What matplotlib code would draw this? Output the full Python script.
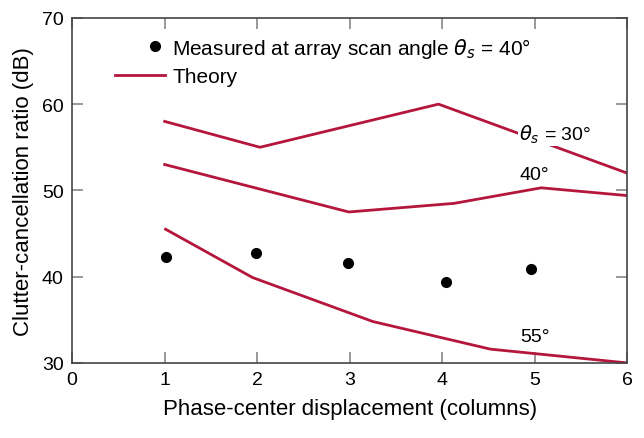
import matplotlib.pyplot as plt
from matplotlib.legend_handler import HandlerLine2D
import numpy as np

plt.rcParams['font.family'] = ['Liberation Sans', 'DejaVu Sans']
plt.rcParams['mathtext.fontset'] = 'dejavusans'

# measured points (array scan angle 40 deg)
meas_x = np.array([1.01, 1.99, 2.98, 4.04, 4.96])
meas_y = np.array([42.25, 42.7, 41.6, 39.4, 40.9])

# theory curves
th30_x = np.array([1.0, 2.03, 3.96, 6.0])
th30_y = np.array([58.0, 55.0, 60.0, 52.0])
th40_x = np.array([1.0, 2.99, 4.13, 5.07, 6.0])
th40_y = np.array([53.0, 47.5, 48.5, 50.3, 49.4])
th55_x = np.array([1.01, 1.95, 3.25, 4.52, 6.0])
th55_y = np.array([45.5, 39.9, 34.8, 31.6, 30.0])

red = '#b5163c'


# legend marker sits near the right end of the handle box
class RightMarker(HandlerLine2D):
    def get_xdata(self, legend, xdescent, ydescent, width, height, fontsize):
        x = [-xdescent + width * 0.8]
        return x, x


fig = plt.figure(figsize=(6.44, 4.39), dpi=100)
ax = fig.add_axes([0.112, 0.171, 0.862, 0.786])

meas, = ax.plot(meas_x, meas_y, 'o', color='black', markersize=7,
                label=r'Measured at array scan angle $\theta_s$ = 40°')
ax.plot(th30_x, th30_y, '-', color=red, lw=2, label='Theory')
ax.plot(th40_x, th40_y, '-', color=red, lw=2)
ax.plot(th55_x, th55_y, '-', color=red, lw=2)

# curve labels (white box breaks the 30 deg line like the original)
ax.text(5.22, 56.6, r'$\theta_s$ = 30°', fontsize=14, ha='center', va='center',
        bbox=dict(facecolor='white', edgecolor='none', pad=1))
ax.text(5.0, 51.9, '40°', fontsize=14, ha='center', va='center')
ax.text(5.0, 33.1, '55°', fontsize=14, ha='center', va='center')

ax.set_xlim(0, 6)
ax.set_ylim(30, 70)
ax.set_xticks(np.arange(0, 7, 1))
ax.set_yticks(np.arange(30, 71, 10))
ax.tick_params(direction='in', length=8, width=1.2, color='#888888',
               top=True, right=True, labelsize=14, pad=6)
for s in ax.spines.values():
    s.set_linewidth(1.2)
    s.set_color('#444444')

ax.set_xlabel('Phase-center displacement (columns)', fontsize=16, labelpad=7)
ax.set_ylabel('Clutter-cancellation ratio (dB)', fontsize=16, labelpad=6)

ax.legend(loc='upper left', bbox_to_anchor=(0.055, 0.985), frameon=False,
          fontsize=15, handlelength=2.4, handletextpad=0.35, labelspacing=0.35,
          numpoints=1, borderaxespad=0.2, handler_map={meas: RightMarker()})

fig.savefig('out.png', dpi=100)
